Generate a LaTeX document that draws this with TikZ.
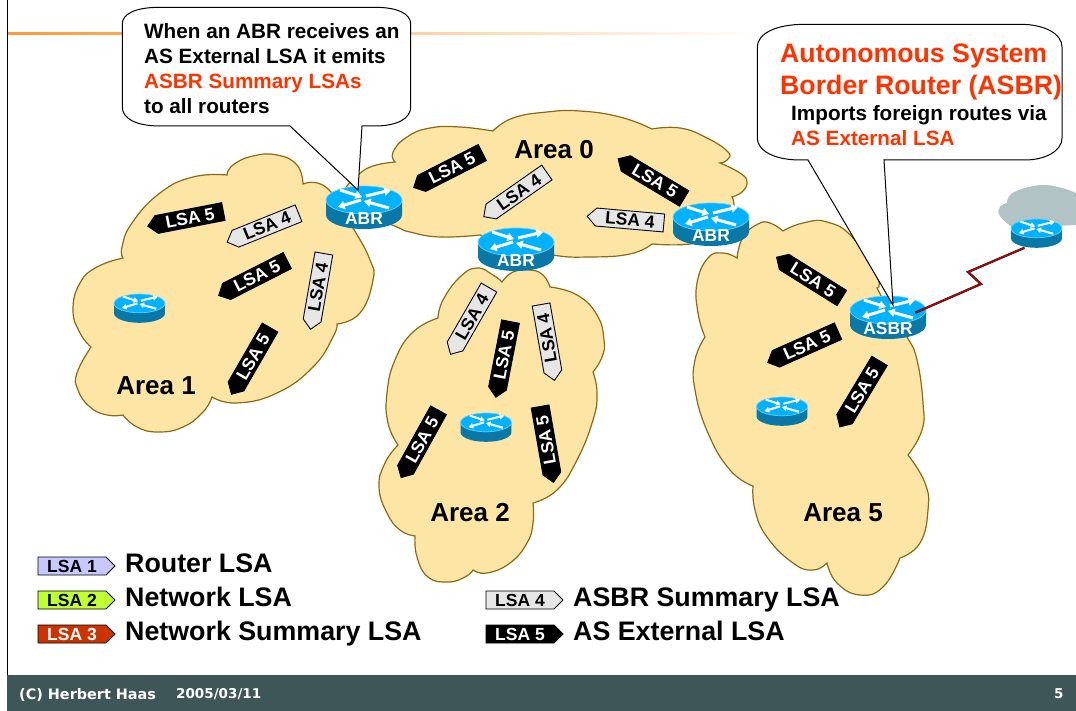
\documentclass[tikz,border=0pt]{standalone}
\usepackage{fontspec}
\setmainfont{Liberation Sans}
\newfontfamily\footfont{DejaVu Sans}
\usetikzlibrary{arrows.meta,shapes.symbols}

\definecolor{areafill}{HTML}{FDE5A6}
\definecolor{areaedge}{HTML}{8C6A14}
\definecolor{routertop}{HTML}{00B2FF}
\definecolor{routerside}{HTML}{0A78A6}
\definecolor{routerrim}{HTML}{66D0FF}
\definecolor{redtext}{HTML}{FF3300}
\definecolor{footbar}{HTML}{3F5658}
\definecolor{foreign}{HTML}{B2C3C5}
\definecolor{ruleline}{HTML}{FF9933}
\definecolor{lsaone}{HTML}{C8C8FF}
\definecolor{lsatwo}{HTML}{BFFF33}
\definecolor{lsathree}{HTML}{CC3300}
\definecolor{lsafour}{HTML}{E6E6E6}

\tikzset{
	areacloud/.style={fill=areafill, draw=areaedge, line width=1.2pt, smooth, tension=.8},
	arealabel/.style={font=\fontsize{26}{30}\selectfont\bfseries},
	routerbox/.style={inner sep=0pt, outer sep=0pt},
	routerlabel/.style={font=\fontsize{17.4}{20}\selectfont\bfseries, text=white, inner sep=0pt},
	routerarrow/.style={draw=white, -{Triangle[length=0pt 2.2,width=0pt 2.7]}},
	lsabase/.style={signal, signal pointer angle=90, draw=black, line width=.9pt, inner sep=0pt,
		minimum width=77pt, minimum height=18pt, font=\fontsize{17.5}{18}\selectfont\bfseries},
	lsa4box/.style={lsabase, signal to=west, fill=lsafour},
	lsa5box/.style={lsabase, signal to=west, fill=black, text=white},
	legendbox/.style={lsabase, signal to=east, fill=#1},
	legendtext/.style={anchor=base west, inner sep=0pt, font=\fontsize{26.8}{30}\selectfont\bfseries},
	calloutline/.style={fill=white, draw=black, line width=1pt},
	callouttext/.style={anchor=north west, align=left, inner sep=0pt, font=\fontsize{20.7}{24.9}\selectfont\bfseries},
	calloutbig/.style={anchor=north west, align=left, inner sep=0pt, text=redtext, font=\fontsize{26.7}{32}\selectfont\bfseries},
	foottext/.style={anchor=west, inner sep=0pt, text=white, font=\footfont\fontsize{13.5}{16}\selectfont\bfseries}
}

% name, centre x, top y, size
\newcommand{\routericon}[4]{
	\begin{scope}[shift={(#2,#3)},scale=#4]
		\fill[routerside] (-38,14) -- (-38,29) arc[start angle=180,end angle=360,x radius=38pt,y radius=14pt] -- (38,14) -- cycle;
		\fill[routertop, draw=routerrim, line width=.7pt] (0,14) ellipse [x radius=38pt,y radius=14pt];
		\foreach \xa/\ya/\xb/\yb in {-24/4/-2/11,2/10/27/4,-3/14/-26/21,25/22/0/15} {
			\draw[routerarrow, line width=#4*3pt] (\xa,\ya) -- (\xb,\yb);
		}
	\end{scope}
	\node (#1) [routerbox, minimum width=#4*76pt, minimum height=#4*43pt] at (#2,{#3+21.5*#4}) {};
}

\begin{document}
\begin{tikzpicture}[x=1pt,y=-1pt]
	\path[use as bounding box, fill=white] (0,0) rectangle (1076,711);

	% page furniture
	\shade[left color=ruleline, right color=white] (8,33) rectangle (760,35);
	\draw[line width=1.4pt] (7.5,0) -- (7.5,675);
	\fill[footbar] (7,675) rectangle (1076,711);
	\node (footname) [foottext, font=\footfont\fontsize{14.4}{16}\selectfont\bfseries] at (19,694.5) {(C) Herbert Haas};
	\node (footdate) [foottext] at (176,694.5) {2005/03/11};
	\node (footpage) [foottext] at (1054,693.5) {5};

	% foreign network
	\fill[foreign, smooth, tension=.8] plot coordinates {(1013,228) (1000,216) (1000,207) (1007,203)}
		-- plot coordinates {(1007,203) (1011,194) (1025,188)}
		-- plot coordinates {(1025,188) (1043,185) (1062,188) (1076,193)}
		-- (1076,225) -- cycle;

	% areas
	\draw[areacloud] plot coordinates {(395,162) (393,152) (407,137) (430,128) (460,127) (493,131)}
		-- plot coordinates {(493,131) (513,118) (547,112) (580,111) (620,117) (652,129)}
		-- plot coordinates {(652,129) (680,128) (707,138) (728,152) (727,160) (720,163)}
		-- plot coordinates {(720,163) (740,173) (747,182) (742,192) (732,197)}
		-- plot coordinates {(732,197) (733,210) (720,235) (690,244) (652,244)}
		-- plot coordinates {(652,244) (630,254) (590,257) (553,255) (520,245) (480,235)}
		-- plot coordinates {(480,235) (440,237) (410,232) (397,227) (370,215) (350,200) (345,190) (358,175) (373,166) (395,162)} -- cycle;
	\draw[areacloud] plot coordinates {(303,184) (327,188) (353,228) (370,260) (373,280) (360,313) (337,324)}
		-- plot coordinates {(337,324) (333,337) (313,367) (277,393) (237,403) (212,397)}
		-- plot coordinates {(212,397) (203,412) (183,427) (158,432) (137,427) (123,415)}
		-- plot coordinates {(123,415) (107,415) (90,407) (78,390) (77,373) (91,347)}
		-- plot coordinates {(91,347) (80,333) (73,310) (80,283) (97,267) (123,258)}
		-- plot coordinates {(123,258) (122,247) (132,223) (160,193) (193,177) (227,175)}
		-- plot coordinates {(227,175) (233,165) (253,156) (277,155) (297,165) (303,184)} -- cycle;
	\draw[areacloud] plot coordinates {(502,282) (493,275) (477,268) (460,277) (443,300) (438,318)}
		-- plot coordinates {(438,318) (413,332) (395,360) (387,393) (388,423) (398,445)}
		-- plot coordinates {(398,445) (385,463) (379,487) (387,513) (400,530) (415,536)}
		-- plot coordinates {(415,536) (417,557) (428,577) (448,582) (465,577) (473,570)}
		-- plot coordinates {(473,570) (487,573) (510,563) (527,543) (533,523) (533,503)}
		-- plot coordinates {(533,503) (557,490) (577,460) (593,420) (597,393) (593,372)}
		-- plot coordinates {(593,372) (602,357) (604,340) (597,315) (577,295) (550,287)}
		-- plot coordinates {(550,287) (543,275) (530,270) (513,272) (502,282)} -- cycle;
	\draw[areacloud] plot coordinates {(783,231) (770,223) (758,224) (743,237) (737,258)}
		-- plot coordinates {(737,258) (723,253) (708,258) (697,283) (698,313) (705,337)}
		-- plot coordinates {(705,337) (695,360) (695,390) (708,433) (730,470) (753,486)}
		-- plot coordinates {(753,486) (755,510) (767,537) (793,563) (813,570) (827,563)}
		-- plot coordinates {(827,563) (837,583) (860,595) (883,587) (900,558)}
		-- plot coordinates {(900,558) (920,543) (928,510) (925,483) (908,455)}
		-- plot coordinates {(908,455) (922,430) (923,403) (917,360) (907,337) (893,317) (877,288)}
		-- plot coordinates {(877,288) (877,277) (853,238) (827,222) (803,223) (783,231)} -- cycle;

	\node (area0) [arealabel] at (554,150) {Area 0};
	\node (area1) [arealabel] at (156,386) {Area 1};
	\node (area2) [arealabel] at (470,513) {Area 2};
	\node (area5) [arealabel] at (843,513) {Area 5};

	% routers
	\routericon{abra}{364}{186}{1}
	\routericon{abrb}{516}{228}{1}
	\routericon{abrc}{711}{203}{1}
	\routericon{asbr}{888}{296}{1}
	\routericon{rone}{139.5}{294}{.67}
	\routericon{rtwo}{486}{413}{.67}
	\routericon{rfive}{782}{397}{.67}
	\routericon{remote}{1036.5}{219}{.67}
	\foreach \nm/\txt in {abra/ABR,abrb/ABR,abrc/ABR,asbr/ASBR} {
		\node (\nm lbl) [routerlabel] at ([yshift=-11.5pt]\nm.center) {\txt};
	}

	% serial link
	\coordinate (ziga) at (981,284);
	\coordinate (zigb) at (968,272);
	\draw[line width=2.4pt, black!85, shorten <=-11.7pt] (asbr.14) -- (ziga) -- (zigb) -- (remote.-130);
	\draw[line width=1.3pt, red!75!black, shorten <=-11.7pt, yshift=-1pt] (asbr.14) -- (ziga) -- (zigb) -- (remote.-130);

	% lsa flags
	\foreach \nm/\px/\py/\ang in {a/267/226/22,b/318/287/80,c/519/192/35,d/630/220/-5,e/472/317/60,f/547/338/100} {
		\node (four\nm) [lsa4box, rotate=\ang] at (\px,\py) {LSA 4};
	}
	\foreach \nm/\px/\py/\ang in {a/190/218/11,b/257/276/27,c/253/357/60,d/452/168/27,e/655/181/-31,f/504/355/79,g/422/440/61,h/546/440/100,i/813/280/-32,j/807/345/24,k/862/390/59} {
		\node (five\nm) [lsa5box, rotate=\ang] at (\px,\py) {LSA 5};
	}

	% legend
	\foreach \nm/\px/\py/\num/\col/\ink/\txt in {
		one/72/566/1/lsaone/black/Router LSA,
		two/72/600/2/lsatwo/black/Network LSA,
		three/72/634/3/lsathree/white/Network Summary LSA,
		four/520/600/4/lsafour/black/ASBR Summary LSA,
		five/520/634/5/black/white/AS External LSA} {
		\node (leg\nm) [legendbox=\col, text=\ink] at (\px,\py) {LSA \num};
		\node (txt\nm) [legendtext] at ({\px+53},{\py+6}) {\txt};
	}

	% callouts
	\coordinate (tipa) at (358,190);
	\draw[calloutline] (160,7.3) -- (375,7.3) .. controls (398,7.3) and (410.7,14) .. (410.7,24)
		-- (410.7,107) .. controls (410.7,118) and (398,126) .. (375,126) -- (362,126) -- (tipa) -- (290,126)
		-- (160,126) .. controls (135,126) and (122.3,118) .. (122.3,107)
		-- (122.3,24) .. controls (122.3,14) and (135,7.3) .. (160,7.3) -- cycle;
	\node (abrnote) [callouttext] at (144,23.5) {When an ABR receives an\\AS External LSA it emits\\{\color{redtext}ASBR Summary LSAs}\\to all routers};

	\coordinate (tipb) at (893,305);
	\draw[calloutline] (805,24.3) -- (1020,24.3) .. controls (1045,24.3) and (1062,34) .. (1062,47)
		-- (1062,138) .. controls (1062,151) and (1045,160) .. (1025,160) -- (884,160) -- (tipb) -- (808,160)
		-- (800,160) .. controls (775,160) and (757.3,151) .. (757.3,138)
		-- (757.3,47) .. controls (757.3,34) and (775,24.3) .. (805,24.3) -- cycle;
	\node (asbrhead) [calloutbig] at (780,44) {Autonomous System\\Border Router (ASBR)};
	\node (asbrnote) [callouttext] at (791,105) {Imports foreign routes via\\{\color{redtext}AS External LSA}};
\end{tikzpicture}
\end{document}
